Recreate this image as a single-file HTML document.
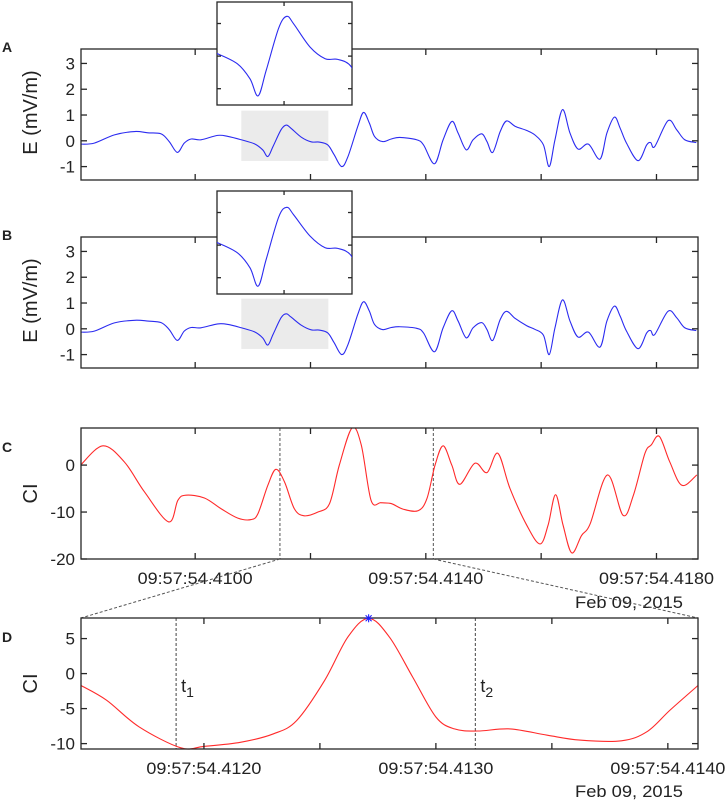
<!DOCTYPE html>
<html><head><meta charset="utf-8"><style>
html,body{margin:0;padding:0;background:#fff;}
svg{display:block;font-family:"Liberation Sans",Arial,sans-serif;}
</style></head><body>
<svg id="chart" width="726" height="802" viewBox="0 0 726 802" xmlns="http://www.w3.org/2000/svg"></svg>
<script>
// ---- data (time in ms after 09:57:54.4100) ----
const eTimes = [-1.98,-1.75,-1.40,-1.05,-0.82,-0.59,-0.45,-0.31,-0.19,-0.07,0.10,0.39,0.57,0.80,1.03,1.17,1.26,1.35,1.49,1.58,1.66,1.84,2.01,2.15,2.30,2.41,2.54,2.65,2.82,2.92,3.02,3.11,3.25,3.40,3.55,3.84,3.96,4.15,4.30,4.45,4.56,4.70,4.82,4.97,5.06,5.16,5.29,5.40,5.55,5.75,5.89,6.04,6.14,6.24,6.37,6.50,6.64,6.82,7.02,7.14,7.27,7.37,7.48,7.68,7.83,7.90,7.97,8.20,8.35,8.49,8.69];
const eValuesA = [-0.13,-0.09,0.23,0.36,0.31,0.27,-0.03,-0.45,-0.09,0.07,0.04,0.21,0.17,0.04,-0.12,-0.35,-0.61,-0.22,0.43,0.61,0.49,0.14,-0.04,-0.05,-0.16,-0.54,-1.0,-0.61,0.56,1.10,0.69,0.17,-0.03,0.07,0.13,0.04,-0.16,-0.89,0.04,0.75,0.30,-0.35,0.04,0.27,-0.03,-0.45,0.36,0.77,0.56,0.40,0.23,-0.16,-1.0,0.04,1.21,0.30,-0.32,-0.13,-0.71,0.30,0.92,0.49,-0.09,-0.77,-0.16,-0.07,-0.22,0.78,0.43,0.04,-0.07];
const eValuesB = [-0.13,-0.09,0.23,0.33,0.30,0.24,-0.03,-0.45,-0.09,0.05,0.04,0.19,0.17,0.04,-0.12,-0.35,-0.63,-0.22,0.43,0.58,0.46,0.14,-0.04,-0.05,-0.16,-0.54,-1.0,-0.61,0.56,1.05,0.69,0.17,-0.03,0.05,0.08,0.02,-0.16,-0.89,0.04,0.70,0.30,-0.35,0.04,0.24,-0.03,-0.45,0.36,0.68,0.40,0.12,-0.02,-0.25,-1.0,0.04,1.12,0.30,-0.32,-0.13,-0.71,0.30,0.88,0.49,-0.09,-0.77,-0.16,-0.07,-0.22,0.68,0.43,0.04,-0.07];
const ciTimes = [-1.98,-1.60,-1.23,-0.88,-0.46,-0.30,-0.16,0.16,0.45,0.74,0.97,1.09,1.26,1.40,1.55,1.72,1.89,2.13,2.33,2.50,2.72,2.88,3.05,3.22,3.40,3.61,3.87,4.02,4.16,4.30,4.45,4.59,4.85,5.06,5.25,5.46,5.75,5.98,6.12,6.25,6.38,6.53,6.70,6.85,7.15,7.42,7.60,7.80,7.91,8.05,8.23,8.44,8.70];
const ciValues = [0.1,4.1,0.7,-5.7,-12.1,-7.5,-6.4,-7.0,-9.3,-11.3,-11.6,-10.3,-4.3,-0.9,-3.6,-9.3,-10.8,-10.0,-8.2,0,7.9,4.3,-7.5,-8.0,-8.2,-9.4,-9.7,-7.1,0,4.1,0,-4.1,0.4,-1.6,2.5,-5.0,-12.8,-16.8,-12.8,-6.3,-12.8,-18.7,-15.0,-12.5,-2.1,-10.7,-6.4,2.5,4.3,6.1,0.7,-4.3,-2.1];
const zoomTimes = [1.47,1.58,1.72,1.90,2.00,2.16,2.30,2.40,2.52,2.62,2.71,2.80,2.90,3.00,3.08,3.18,3.32,3.48,3.62,3.80,3.91,4.01,4.13];
const zoomValues = [-1.7,-3.8,-7.6,-10.6,-10.4,-9.8,-8.6,-6.7,-1.0,5.2,7.9,5.2,-0.5,-6.2,-7.9,-8.2,-7.9,-8.8,-9.5,-9.6,-8.3,-5.2,-1.7];
const peakTime = [2.71], peakValue = [7.9];
const markerTimes = [1.88, 3.17];
const markerNames = ["1","2"];
const eTicks = [3,2,1,0,-1];
const ciTicksC = [0,-10,-20];
const ciTicksD = [5,0,-5,-10];
const xTicksC = [0,2,4,6,8];
const xLabelsC = ["09:57:54.4100","09:57:54.4140","09:57:54.4180"];
const xLabelTimesC = [0,4,8];
const xTicksD = [2.0,2.5,3.0,3.5,4.0];
const xLabelsD = ["09:57:54.4120","09:57:54.4130","09:57:54.4140"];
const xLabelTimesD = [2.0,3.0,4.0];
const windowStart = 0.80, windowEnd = 2.31;

const NS = "http://www.w3.org/2000/svg";
const svg = document.getElementById('chart');
function el(tag, attrs, parent){const e=document.createElementNS(NS,tag);for(const k in attrs)e.setAttribute(k,attrs[k]);(parent||svg).appendChild(e);return e;}
function scale(d0,d1,r0,r1){return v=>r0+(v-d0)/(d1-d0)*(r1-r0);}
function smoothPath(xs,ys){
  let d=`M${xs[0].toFixed(2)},${ys[0].toFixed(2)}`;
  for(let i=0;i<xs.length-1;i++){
    const x0=xs[Math.max(i-1,0)],y0=ys[Math.max(i-1,0)],x1=xs[i],y1=ys[i],x2=xs[i+1],y2=ys[i+1],x3=xs[Math.min(i+2,xs.length-1)],y3=ys[Math.min(i+2,xs.length-1)];
    const c1x=x1+(x2-x0)/6,c1y=y1+(y2-y0)/6,c2x=x2-(x3-x1)/6,c2y=y2-(y3-y1)/6;
    d+=` C${c1x.toFixed(2)},${c1y.toFixed(2)} ${c2x.toFixed(2)},${c2y.toFixed(2)} ${x2.toFixed(2)},${y2.toFixed(2)}`;
  }
  return d;
}
const AX='#262626';
function box(x0,y0,x1,y1,name,fill){
  const r=el('rect',{x:x0,y:y0,width:x1-x0,height:y1-y0,fill:fill||'none',stroke:AX,'stroke-width':1.3});
  
  
}
function xticks(ticks,sx,y0,y1,len){for(const t of ticks){const x=sx(t);el('line',{x1:x,y1:y1,x2:x,y2:y1-len,stroke:AX,'stroke-width':1.3});el('line',{x1:x,y1:y0,x2:x,y2:y0+len,stroke:AX,'stroke-width':1.3});}}
function yticks(ticks,sy,x0,x1,len,labels){for(const v of ticks){const y=sy(v);el('line',{x1:x0,y1:y,x2:x0+len,y2:y,stroke:AX,'stroke-width':1.3});el('line',{x1:x1,y1:y,x2:x1-len,y2:y,stroke:AX,'stroke-width':1.3});
  if(labels){const t=el('text',{x:x0-6,y:y+6,'font-size':17,'text-anchor':'end',fill:'#222'});t.textContent=String(v);}}}
function label(txt,x,y,attrs,name){const t=el('text',Object.assign({x:x,y:y,fill:'#222'},attrs));t.textContent=txt;return t;}
function curve(ts,vs,sx,sy,color,name,clip){const p=el('path',{d:smoothPath(ts.map(sx),vs.map(sy)),fill:'none',stroke:color,'stroke-width':1.1});if(clip)p.setAttribute('clip-path',clip);}

const X0=81,X1=698;
const sxMain=scale(-1.98,8.72,X0,X1);

const defs=el('defs',{});
function clipRect(id,x,y,w,h){const c=el('clipPath',{id:id},defs);el('rect',{x:x,y:y,width:w,height:h},c);}

function ePanel(top,letter,vals,insetTop,key){
  const bot=top+131;
  const sy=scale(3.56,-1.52,top,bot);
  clipRect('clip'+key,X0,top,X1-X0,bot-top);
  const sh=el('rect',{x:sxMain(windowStart),y:sy(1.17),width:sxMain(windowEnd)-sxMain(windowStart),height:sy(-0.78)-sy(1.17),fill:'#ebebeb'});
  
  
  curve(eTimes,vals,sxMain,sy,'#2b2bf0','e-field-trace-'+key,'url(#clip'+key+')');
  box(X0,top,X1,bot,'axes-'+key);
  xticks(xTicksC,sxMain,top,bot,6);
  yticks(eTicks,sy,X0,X1,6,true);
  label('E (mV/m)',0,0,{'font-size':20,'text-anchor':'middle',transform:`translate(37,${(top+bot)/2-2}) rotate(-90)`},'y-axis-title-'+key);
  label(letter,2,top+3,{'font-size':14,'font-weight':'bold'},'panel-label-'+key);
  const ix0=217,ix1=352,iy0=insetTop,iy1=insetTop+103;
  const isx=scale(windowStart,windowEnd,ix0,ix1), isy=scale(0.83,-0.75,iy0,iy1);
  box(ix0,iy0,ix1,iy1,'inset-axes-'+key,'#fff');
  clipRect('iclip'+key,ix0,iy0,ix1-ix0,iy1-iy0);
  const it=[],iv=[];for(let i=0;i<eTimes.length;i++){if(eTimes[i]>=windowStart-0.3&&eTimes[i]<=windowEnd+0.3){it.push(eTimes[i]);iv.push(vals[i]);}}
  curve(it,iv,isx,isy,'#2b2bf0','inset-trace-'+key,'url(#iclip'+key+')');
  xticks([1.55],isx,iy0,iy1,4);
  yticks([0.5,0,-0.5],isy,ix0,ix1,4,false);
}
ePanel(49,'A',eValuesA,2,'a');
ePanel(237,'B',eValuesB,191,'b');

(function(){
  const top=428,bot=559;
  const sy=scale(7.9,-20,top,bot);
  clipRect('clipc',X0,top,X1-X0,bot-top);
  for(const t of [zoomTimes[0],zoomTimes[zoomTimes.length-1]]){
    const l=el('line',{x1:sxMain(t),y1:top,x2:sxMain(t),y2:bot,stroke:'#555','stroke-width':1,'stroke-dasharray':'3,2'});
    
    
  }
  curve(ciTimes,ciValues,sxMain,sy,'#ff2a2a','ci-trace-c','url(#clipc)');
  box(X0,top,X1,bot,'axes-c');
  xticks(xTicksC,sxMain,top,bot,6);
  yticks(ciTicksC,sy,X0,X1,6,true);
  xLabelsC.forEach((s,i)=>{label(s,sxMain(xLabelTimesC[i]),584,{'font-size':17,'text-anchor':'middle',textLength:115,lengthAdjust:'spacingAndGlyphs'},'x-tick-label-c');});
  label('Feb 09, 2015',683,608,{'font-size':17,'text-anchor':'end',textLength:108,lengthAdjust:'spacingAndGlyphs'},'date-label-c');
  label('CI',0,0,{'font-size':20,'text-anchor':'middle',transform:`translate(37,${(top+bot)/2}) rotate(-90)`},'y-axis-title-c');
  label('C',2,452,{'font-size':14,'font-weight':'bold'},'panel-label-c');
  const c1=el('line',{x1:sxMain(zoomTimes[0]),y1:bot,x2:X0,y2:618,stroke:'#555','stroke-width':1,'stroke-dasharray':'3,2'});
  
  const c2=el('line',{x1:sxMain(zoomTimes[zoomTimes.length-1]),y1:bot,x2:X1,y2:618,stroke:'#555','stroke-width':1,'stroke-dasharray':'3,2'});
  
})();

(function(){
  const top=618,bot=749;
  const sx=scale(zoomTimes[0],zoomTimes[zoomTimes.length-1],X0,X1);
  const sy=scale(7.94,-10.77,top,bot);
  markerTimes.forEach((t,i)=>{
    const l=el('line',{x1:sx(t),y1:top,x2:sx(t),y2:bot,stroke:'#444','stroke-width':1,'stroke-dasharray':'3,2'});
    
    
    const tx=label('t',sx(t)+5,692,{'font-size':18},'marker-label-t'+markerNames[i]);
    const sub=el('tspan',{dy:5,'font-size':14},tx);sub.textContent=markerNames[i];
  });
  curve(zoomTimes,zoomValues,sx,sy,'#ff2a2a','ci-trace-d');
  box(X0,top,X1,bot,'axes-d');
  xticks(xTicksD,sx,top,bot,6);
  yticks(ciTicksD,sy,X0,X1,6,true);
  const px=sx(peakTime[0]),py=sy(peakValue[0]);
  const g=el('g',{stroke:'#2020ff','stroke-width':1.1});
  
  
  el('line',{x1:px-4,y1:py,x2:px+4,y2:py},g);el('line',{x1:px,y1:py-4,x2:px,y2:py+4},g);
  el('line',{x1:px-3,y1:py-3,x2:px+3,y2:py+3},g);el('line',{x1:px-3,y1:py+3,x2:px+3,y2:py-3},g);
  xLabelsD.forEach((s,i)=>{label(s,sx(xLabelTimesD[i]),774,{'font-size':17,'text-anchor':'middle',textLength:115,lengthAdjust:'spacingAndGlyphs'},'x-tick-label-d');});
  label('Feb 09, 2015',683,797,{'font-size':17,'text-anchor':'end',textLength:108,lengthAdjust:'spacingAndGlyphs'},'date-label-d');
  label('CI',0,0,{'font-size':20,'text-anchor':'middle',transform:`translate(37,${(top+bot)/2}) rotate(-90)`},'y-axis-title-d');
  label('D',2,642,{'font-size':14,'font-weight':'bold'},'panel-label-d');
})();
</script>
</body></html>
